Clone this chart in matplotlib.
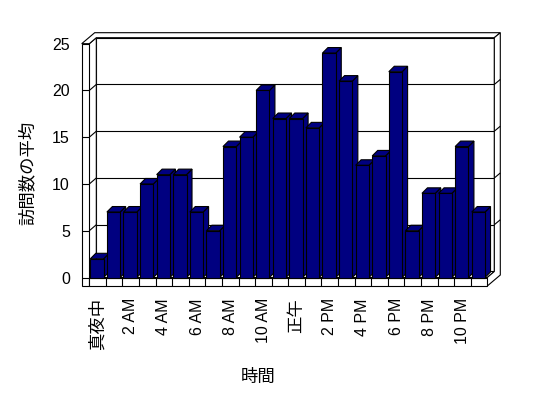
import matplotlib
matplotlib.use('Agg')
import matplotlib.pyplot as plt
from matplotlib.patches import Polygon

# average visits per hour (midnight .. 11 PM)
visits = [2, 7, 7, 10, 11, 11, 7, 5, 14, 15, 20, 17,
          17, 16, 24, 21, 12, 13, 22, 5, 9, 9, 14, 7]
tick_pos = list(range(0, 24, 2))
tick_labels = ['真夜中', '2 AM', '4 AM', '6 AM', '8 AM', '10 AM',
               '正午', '2 PM', '4 PM', '6 PM', '8 PM', '10 PM']
y_ticks = [0, 5, 10, 15, 20, 25]
x_title = '時間'
y_title = '訪問数の平均'

W, H = 548, 398
LW = 0.8
NAVY = '#000080'

plt.rcParams['font.family'] = ['Liberation Sans', 'Noto Sans CJK JP']


def poly(ax, pts, fc='white', z=1):
    ax.add_patch(Polygon(pts, closed=True, facecolor=fc, edgecolor='black',
                         lw=LW, clip_on=False, joinstyle='miter', zorder=z))


def line(ax, xs, ys, z=2):
    ax.plot(xs, ys, color='black', lw=LW, clip_on=False, zorder=z,
            solid_capstyle='butt')


def main():
    fig = plt.figure(figsize=(W / 100, H / 100), dpi=100)
    # front plane of the plot box, in pixels
    fx0, fx1 = 89.3, 487.3
    fy0, fy1 = 277.5, 43.7
    ax = fig.add_axes([fx0 / W, 1 - fy0 / H, (fx1 - fx0) / W, (fy0 - fy1) / H])
    n = len(visits)
    ymax = y_ticks[-1]
    x0, x1 = -0.5, n - 0.5
    ax.set_xlim(x0, x1)
    ax.set_ylim(0, ymax)
    sx = (fx1 - fx0) / n
    sy = (fy0 - fy1) / ymax

    # depth offsets (pixels -> data)
    Dx, Dy = 7 / sx, 6 / sy        # inner depth
    Ox, Oy = 13 / sx, 11 / sy      # outer depth incl. back wall thickness
    tw = 7.6 / sx                  # left wall thickness
    tf = 8.5 / sy                  # floor thickness
    bdx, bdy = 5.5 / sx, 5.5 / sy  # bar depth

    # walls and floor
    poly(ax, [(x0 + Dx, Dy), (x1 + Dx, Dy), (x1 + Dx, ymax + Dy), (x0 + Dx, ymax + Dy)])
    poly(ax, [(x0, 0), (x0 + Dx, Dy), (x0 + Dx, ymax + Dy), (x0, ymax)])
    poly(ax, [(x0, 0), (x1, 0), (x1 + Dx, Dy), (x0 + Dx, Dy)])
    poly(ax, [(x0 - tw, ymax), (x0 - tw + Ox, ymax + Oy), (x1 + Ox, ymax + Oy),
              (x1 + Dx, ymax + Dy), (x0 + Dx, ymax + Dy), (x0, ymax)])
    poly(ax, [(x1, -tf), (x1 + Ox, -tf + Oy), (x1 + Ox, ymax + Oy),
              (x1 + Dx, ymax + Dy), (x1 + Dx, Dy), (x1, 0)])
    poly(ax, [(x0 - tw, -tf), (x0, -tf), (x0, ymax), (x0 - tw, ymax)])
    poly(ax, [(x0, -tf), (x1, -tf), (x1, 0), (x0, 0)])

    # gridlines
    for v in y_ticks[1:-1]:
        line(ax, [x0 + Dx, x1 + Dx], [v + Dy, v + Dy])
        line(ax, [x0, x0 + Dx], [v, v + Dy])
        line(ax, [x1 + Dx, x1 + Ox], [v + Dy, v + Oy])
    for v in y_ticks[:-1]:
        line(ax, [x0 - tw, x0], [v, v])
    # category dividers on the floor edge
    for k in range(1, n):
        line(ax, [x0 + k, x0 + k], [-tf, 0])

    # bars, left to right so each covers the side of the previous one
    bw = 13.3 / sx
    for i, v in enumerate(visits):
        a = i - 0.5 + 1 / sx
        b = a + bw
        poly(ax, [(b, 0), (b + bdx, bdy), (b + bdx, v + bdy), (b, v)], NAVY, 3)
        poly(ax, [(a, v), (b, v), (b + bdx, v + bdy), (a + bdx, v + bdy)], NAVY, 3)
        poly(ax, [(a, 0), (b, 0), (b, v), (a, v)], NAVY, 3)

    # axes text
    for s in ax.spines.values():
        s.set_visible(False)
    ax.patch.set_visible(False)
    ax.set_yticks(y_ticks)
    ax.set_yticklabels([str(t) for t in y_ticks], fontsize=11.5)
    ax.set_xticks(tick_pos)
    ax.set_xticklabels(tick_labels, rotation=90, va='top', fontsize=11.5)
    for lbl in ax.get_xticklabels():
        if not lbl.get_text().isascii():
            lbl.set_fontsize(12.5)
    ax.tick_params(axis='y', length=0, pad=14)
    ax.tick_params(axis='x', length=0, pad=14.8)

    fig.text(258 / W, 1 - 377 / H, x_title, fontsize=12.5, ha='center', va='center')
    fig.text(27 / W, 1 - 173 / H, y_title, fontsize=12.5, rotation=90,
             ha='center', va='center')

    fig.savefig('out.png', dpi=100)


if __name__ == '__main__':
    main()
